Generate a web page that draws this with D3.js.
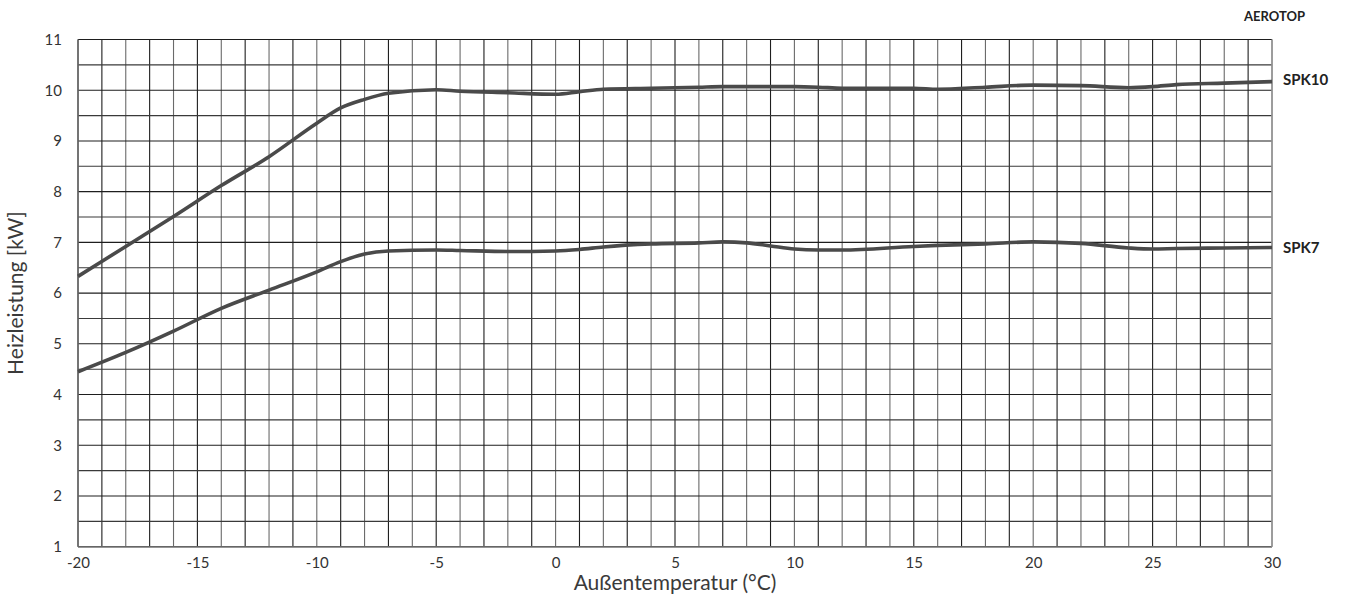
<!DOCTYPE html>
<html><head><meta charset="utf-8">
<script src="https://cdn.jsdelivr.net/npm/d3@7/dist/d3.min.js"></script>
<style>
body{margin:0;background:#fff;}
text{font-family:Lato,"Open Sans",sans-serif;}
</style></head>
<body><svg id="c" width="1346" height="610"></svg>
<script>
const temps   = [-20,-18,-16,-14,-12,-10,-9,-8,-7,-5,-4,-2,0,1,2,4,6,7,8,9,10,11,12,15,16,18,20,22,24,25,26,28,30];
const spk10   = [6.33,6.92,7.51,8.12,8.69,9.35,9.65,9.82,9.94,10.01,9.98,9.95,9.92,9.97,10.02,10.04,10.06,10.07,10.07,10.07,10.07,10.06,10.04,10.04,10.02,10.06,10.10,10.09,10.05,10.07,10.11,10.14,10.17];
const spk7    = [4.45,4.83,5.25,5.70,6.06,6.42,6.62,6.77,6.83,6.85,6.84,6.82,6.83,6.86,6.91,6.97,6.99,7.01,6.99,6.93,6.87,6.85,6.85,6.92,6.94,6.97,7.01,6.98,6.89,6.87,6.88,6.89,6.90];
const seriesNames = ["SPK10","SPK7"];
const xTicks = [-20,-15,-10,-5,0,5,10,15,20,25,30];
const yTicks = [1,2,3,4,5,6,7,8,9,10,11];

const svg = d3.select("#c");
const L=78, R=1272, T=39.5, B=546.7;
const x = d3.scaleLinear().domain([-20,30]).range([L,R]);
const y = d3.scaleLinear().domain([1,11]).range([B,T]);

const g = svg.append("g");
g.selectAll(".vg").data(d3.range(-20,31,1)).join("line")
  .attr("x1",d=>x(d)).attr("x2",d=>x(d)).attr("y1",T).attr("y2",B)
  .attr("stroke",(d,i)=>i%2? "#1e1e1e":"#6a6a6a").attr("stroke-width",1.1);
g.selectAll(".hg").data(d3.range(1,11.01,0.5)).join("line")
  .attr("y1",d=>y(d)).attr("y2",d=>y(d)).attr("x1",L).attr("x2",R)
  .attr("stroke",(d,i)=>i%2? "#3a3a3a":"#1e1e1e").attr("stroke-width",1.1);
g.append("line").attr("x1",L).attr("x2",R).attr("y1",B).attr("y2",B).attr("stroke","#666").attr("stroke-width",1.6);
g.append("line").attr("x1",L).attr("x2",L).attr("y1",T).attr("y2",B).attr("stroke","#666").attr("stroke-width",1.6);
g.append("line").attr("x1",R).attr("x2",R).attr("y1",T).attr("y2",B).attr("stroke","#999").attr("stroke-width",1.6);

const xAxis = d3.axisBottom(x).tickValues(xTicks).tickSize(0).tickPadding(11).tickFormat(d=>String(d));
svg.append("g").attr("transform",`translate(0,${B})`).call(xAxis)
  .call(s=>s.select(".domain").remove())
  .call(s=>s.selectAll("text").attr("font-size",15).attr("fill","#333").style("font-family","Lato,sans-serif"));
const yAxis = d3.axisLeft(y).tickValues(yTicks).tickSize(0).tickPadding(16);
svg.append("g").attr("transform",`translate(${L},0)`).call(yAxis)
  .call(s=>s.select(".domain").remove())
  .call(s=>s.selectAll("text").attr("font-size",15).attr("fill","#333").style("font-family","Lato,sans-serif"));

const data = [spk10, spk7];
const line = d3.line().x((d,i)=>x(temps[i])).y(d=>y(d)).curve(d3.curveMonotoneX);
svg.selectAll(".ln").data(data).join("path")
  .attr("d",line).attr("fill","none").attr("stroke","#4a4a4a").attr("stroke-width",3.6);

svg.selectAll(".sl").data(data).join("text")
  .attr("x",R+11).attr("y",(d,i)=>y(d[d.length-1])+(i?5.5:3.5))
  .attr("font-size",15).attr("font-weight",700).attr("fill","#222")
  .text((d,i)=>seriesNames[i]);

svg.append("text").attr("x",1305).attr("y",21).attr("text-anchor","end")
  .attr("font-size",13).attr("font-weight",700).attr("fill","#222").text("AEROTOP");

svg.append("text").attr("x",(L+R)/2).attr("y",590).attr("text-anchor","middle")
  .attr("font-size",21).attr("fill","#3a3a3a").text("Außentemperatur (°C)");
svg.append("text").attr("transform",`translate(23,${(T+B)/2}) rotate(-90)`).attr("text-anchor","middle")
  .attr("font-size",21).attr("fill","#3a3a3a").text("Heizleistung [kW]");
</script></body></html>
